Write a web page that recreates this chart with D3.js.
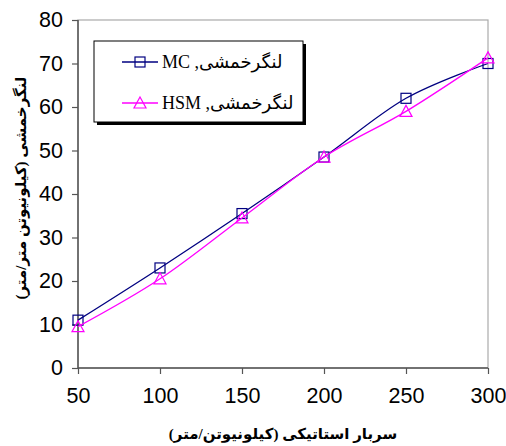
<!DOCTYPE html>
<html><head><meta charset="utf-8">
<script src="https://cdn.jsdelivr.net/npm/d3@7"></script>
<style>body{margin:0;background:#fff}</style>
</head><body>
<svg id="c" width="506" height="446"></svg>
<script>
const xValues = [50, 100, 150, 200, 250, 300];
const mcValues = [11, 23, 35.5, 48.5, 62, 70];
const hsmValues = [9.5, 20.5, 34.5, 48.5, 59, 71.3];
const xTicks = [50, 100, 150, 200, 250, 300];
const yTicks = [0, 10, 20, 30, 40, 50, 60, 70, 80];
const seriesNames = ["لنگرخمشی, MC", "لنگرخمشی, HSM"];
const xTitle = "سربار استاتیکی (کیلونیوتن/متر)";
const yTitle = "لنگرخمشی (کیلونیوتن متر/متر)";

const svg = d3.select("#c");
const L = 78, R = 488, T = 20, B = 368;
const x = d3.scaleLinear().domain([50, 300]).range([L, R]);
const y = d3.scaleLinear().domain([0, 80]).range([B, T]);
const persianFont = "'Times New Roman','Liberation Serif','DejaVu Serif','DejaVu Sans',serif";

svg.append("rect").attr("x", L).attr("y", T).attr("width", R - L).attr("height", B - T)
  .attr("fill", "none").attr("stroke", "#aaaaaa").attr("stroke-width", 1.2);

const yAxis = svg.append("g").attr("transform", `translate(${L},0)`)
  .call(d3.axisLeft(y).tickValues(yTicks).tickSize(6).tickPadding(9).tickFormat(d3.format("d")));
const xAxis = svg.append("g").attr("transform", `translate(0,${B})`)
  .call(d3.axisBottom(x).tickValues(xTicks).tickSize(6).tickPadding(14).tickFormat(d3.format("d")));
[yAxis, xAxis].forEach(a => {
  a.select(".domain").attr("stroke", "#555").attr("stroke-width", 1.5);
  a.selectAll(".tick line").attr("stroke", "#555").attr("stroke-width", 1.2);
  a.selectAll(".tick text").attr("font-family", "Arial, 'Liberation Sans', sans-serif")
    .attr("font-size", 21.5).attr("fill", "#000");
});
yAxis.select(".domain").attr("d", `M0,${B}V${T}`);
xAxis.select(".domain").attr("d", `M${L},0H${R}`);

const series = [
  {vals: mcValues, color: "#000080", marker: "square"},
  {vals: hsmValues, color: "#ff00ff", marker: "triangle"}
];
const line = d3.line().x(d => x(d[0])).y(d => y(d[1])).curve(d3.curveCatmullRom.alpha(0));
function drawMarker(g, type, color, cx, cy) {
  if (type === "square") {
    g.append("rect").attr("x", cx - 5).attr("y", cy - 5).attr("width", 10).attr("height", 10)
      .attr("fill", "none").attr("stroke", color).attr("stroke-width", 1.2);
  } else {
    g.append("path").attr("d", `M${cx},${cy - 6}L${cx + 6},${cy + 5}L${cx - 6},${cy + 5}Z`)
      .attr("fill", "none").attr("stroke", color).attr("stroke-width", 1.2);
  }
}
series.forEach(s => {
  const pts = xValues.map((v, i) => [v, s.vals[i]]);
  svg.append("path").attr("d", line(pts)).attr("fill", "none")
    .attr("stroke", s.color).attr("stroke-width", 1.3);
  const g = svg.append("g");
  pts.forEach(p => drawMarker(g, s.marker, s.color, x(p[0]), y(p[1])));
});

const lg = svg.append("g");
lg.append("rect").attr("x", 97).attr("y", 44).attr("width", 209).attr("height", 81).attr("fill", "#000");
lg.append("rect").attr("x", 94).attr("y", 41).attr("width", 209).attr("height", 81)
  .attr("fill", "#fff").attr("stroke", "#000").attr("stroke-width", 1);
[62, 103].forEach((ly, i) => {
  const s = series[i];
  lg.append("line").attr("x1", 122).attr("x2", 158).attr("y1", ly).attr("y2", ly)
    .attr("stroke", s.color).attr("stroke-width", 1.3);
  drawMarker(lg, s.marker, s.color, 140, ly);
  lg.append("text").attr("x", 162).attr("y", ly + 6)
    .attr("direction", "rtl").attr("text-anchor", "end")
    .attr("font-family", persianFont).attr("font-size", 18).attr("fill", "#000")
    .text(seriesNames[i]);
});

svg.append("text").attr("x", 283).attr("y", 439).attr("text-anchor", "middle")
  .attr("direction", "rtl")
  .attr("font-family", persianFont).attr("font-size", 15).attr("font-weight", "bold")
  .text(xTitle);
svg.append("text").attr("transform", "translate(26,188) rotate(-90)").attr("text-anchor", "middle")
  .attr("direction", "rtl")
  .attr("font-family", persianFont).attr("font-size", 15).attr("font-weight", "bold")
  .text(yTitle);
</script>
</body></html>
